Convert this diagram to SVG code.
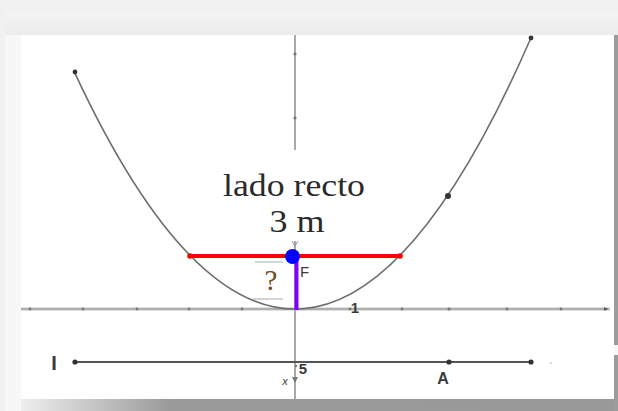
<svg xmlns="http://www.w3.org/2000/svg" width="618" height="411" viewBox="0 0 618 411">
<defs>
<linearGradient id="bottomShadow" x1="0" y1="0" x2="1" y2="0">
<stop offset="0" stop-color="#eeeeee"/>
<stop offset="0.25" stop-color="#9a9a9a"/>
<stop offset="1" stop-color="#999999"/>
</linearGradient>
<linearGradient id="topBand" x1="0" y1="0" x2="0" y2="1">
<stop offset="0" stop-color="#f4f4f4"/>
<stop offset="1" stop-color="#ececec"/>
</linearGradient>
<marker id="axisArrow" viewBox="0 0 10 10" refX="9" refY="5" markerWidth="5" markerHeight="5" orient="auto">
<path d="M0,1 L10,5 L0,9 z" fill="#555"/>
</marker>
</defs>
<style>
.axis{stroke:#8c8c8c;stroke-width:1.5;fill:none}
.xaxis{stroke:#c4c4c4;stroke-width:3;fill:none}
.xaxisc{stroke:#9a9a9a;stroke-width:1;fill:none}
.tick{fill:#777}
.curve{stroke:#6e6e6e;stroke-width:1.6;fill:none}
.pt{fill:#333}
.lbl{font-family:"Liberation Sans",Arial,sans-serif;fill:#3a3a3a}
.serif{font-family:"Liberation Serif","Times New Roman",serif;fill:#2a2a2a}
.guide{stroke:#aaaaaa;stroke-width:1}
</style>

<!-- frame -->
<g id="frame">
<rect x="0" y="0" width="618" height="411" fill="#f1f1f1"/>
<rect x="5" y="12" width="613" height="399" fill="#f7f7f7"/>
<rect x="5" y="12" width="613" height="23" fill="url(#topBand)"/>
<rect x="21" y="35" width="593" height="364" fill="#ffffff"/>
<rect x="21" y="399" width="597" height="12" fill="url(#bottomShadow)"/>
<rect x="614" y="35" width="4" height="310" fill="#9c9c9c"/>
<rect x="614" y="355" width="4" height="56" fill="#9c9c9c"/>
</g>

<!-- axes -->
<g id="axes">
<line class="axis" x1="295" y1="35" x2="295" y2="399"/>
<circle class="tick" cx="295" cy="54" r="1.6"/>
<circle class="tick" cx="295" cy="118" r="1.6"/>
<line class="xaxis" x1="21" y1="309" x2="610" y2="309"/>
<line class="xaxisc" x1="21" y1="309" x2="608" y2="309" marker-end="url(#axisArrow)"/>
<g class="tick">
<circle cx="30" cy="309" r="1.4"/>
<circle cx="83" cy="309" r="1.4"/>
<circle cx="137" cy="309" r="1.4"/>
<circle cx="189" cy="309" r="1.4"/>
<circle cx="242" cy="309" r="1.4"/>
<circle cx="350" cy="309" r="1.4"/>
<circle cx="402" cy="309" r="1.4"/>
<circle cx="449" cy="309" r="1.6"/>
<circle cx="507" cy="309" r="1.4"/>
<circle cx="561" cy="309" r="1.4"/>
</g>
<text class="lbl" x="355" y="313" font-size="15" text-anchor="middle" font-weight="bold" fill="#444">1</text>
</g>

<!-- parabola -->
<g id="parabola">
<path class="curve" d="M75,73.3 Q303,561.9 531,37.8"/>
<circle class="pt" cx="75" cy="72" r="2.4"/>
<circle class="pt" cx="531" cy="38" r="2.4"/>
<circle class="pt" cx="448" cy="196" r="3"/>
</g>

<!-- latus rectum -->
<g id="latus-rectum">
<rect x="212" y="150" width="166" height="91" fill="#ffffff"/>
<path d="M292,241 L295,246 L298,241" stroke="#999" stroke-width="1" fill="none"/>
<line x1="189" y1="256" x2="400" y2="256" stroke="#ff0000" stroke-width="4"/>
<circle cx="190" cy="256" r="2.8" fill="#ff0000"/>
<circle cx="400" cy="256" r="2.8" fill="#ff0000"/>
<text class="serif" x="294" y="196" font-size="31" text-anchor="middle" textLength="142" lengthAdjust="spacingAndGlyphs">lado recto</text>
<text class="serif" x="297" y="232" font-size="31" text-anchor="middle" textLength="55" lengthAdjust="spacingAndGlyphs">3 m</text>
</g>

<!-- focal distance -->
<g id="focal-distance">
<line x1="296.5" y1="257" x2="296.5" y2="310" stroke="#8000ff" stroke-width="4"/>
<line class="guide" x1="255" y1="262" x2="283" y2="262"/>
<line class="guide" x1="253" y1="299" x2="283" y2="299"/>
<text x="271" y="290" font-size="29" text-anchor="middle" font-family="Liberation Serif,'Times New Roman',serif" fill="#6e4a16">?</text>
</g>

<!-- focus -->
<g id="focus">
<circle cx="292.5" cy="256.5" r="7.5" fill="#0000ff"/>
<text class="lbl" x="300" y="277" font-size="15" fill="#666">F</text>
</g>

<!-- slider -->
<g id="slider">
<line x1="75" y1="362" x2="531" y2="362" stroke="#555" stroke-width="2"/>
<circle class="pt" cx="75" cy="362" r="2.6"/>
<circle class="pt" cx="449" cy="362" r="2.6"/>
<circle class="pt" cx="531" cy="362" r="2.6"/>
<circle cx="551" cy="363" r="1" fill="#ccc"/>
<text class="lbl" x="54" y="370" font-size="20" text-anchor="middle" font-weight="bold" fill="#333">I</text>
<circle cx="296" cy="366" r="1.2" fill="#777"/>
<text class="lbl" x="303" y="374" font-size="15" text-anchor="middle" font-weight="bold">5</text>
<text class="lbl" x="285" y="385" font-size="11" text-anchor="middle" font-style="italic" fill="#555">x</text>
<path d="M292,377 L298,377 L295,383 z" fill="#777"/>
<text class="lbl" x="443" y="384" font-size="16" text-anchor="middle" font-weight="bold">A</text>
</g>
</svg>
